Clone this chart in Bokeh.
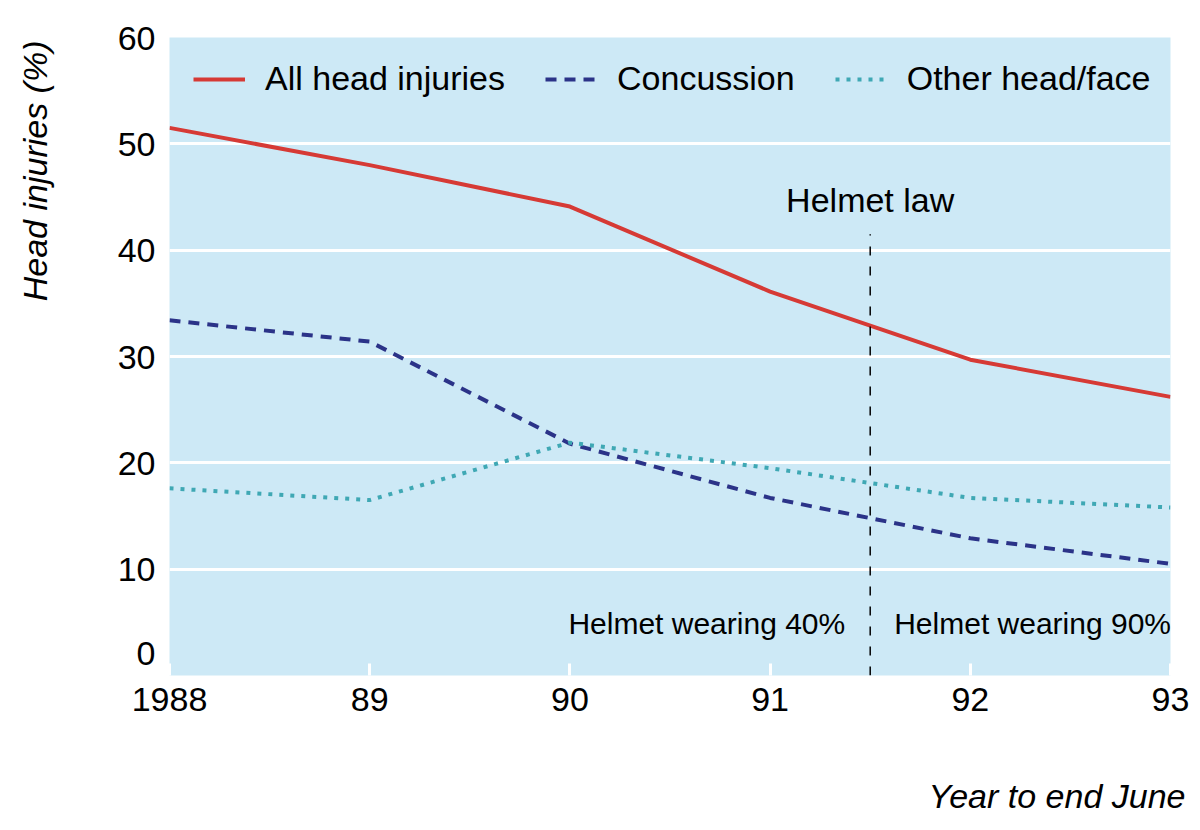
from bokeh.plotting import figure
from bokeh.models import Label, Legend, LegendItem, FixedTicker, Title
from bokeh.embed import file_html
from bokeh.resources import INLINE

# ---- data ----
years = [1988, 1989, 1990, 1991, 1992, 1993]
year_labels = ["1988", "89", "90", "91", "92", "93"]
all_head = [51.5, 48.0, 44.1, 36.1, 29.7, 26.2]
concussion = [33.4, 31.4, 21.8, 16.7, 12.9, 10.5]
other_head_face = [17.6, 16.5, 21.9, 19.5, 16.7, 15.8]
y_ticks = [0, 10, 20, 30, 40, 50, 60]
law_year = 1991.5
law_line_top = 41.5
series_names = ["All head injuries", "Concussion", "Other head/face"]
law_label = "Helmet law"
before_label = "Helmet wearing 40%"
after_label = "Helmet wearing 90%"
y_title = "Head injuries (%)"
x_title = "Year to end June"

FONT = "Liberation Sans"
FS = "34px"
BG = "#cde9f6"

p = figure(width=1200, height=830, x_range=(1988, 1993), y_range=(0, 60),
           output_backend="svg", toolbar_location=None,
           min_border_left=169, min_border_right=30, min_border_top=37,
           min_border_bottom=155)
p.background_fill_color = BG
p.border_fill_color = "white"
p.outline_line_color = None

# grid
p.xgrid.visible = False
p.ygrid.ticker = FixedTicker(ticks=y_ticks[1:-1])
p.ygrid.grid_line_color = "white"
p.ygrid.grid_line_width = 3

# x axis
p.xaxis.ticker = FixedTicker(ticks=years)
p.xaxis.major_label_overrides = {y: l for y, l in zip(years, year_labels)}
p.xaxis.axis_line_color = None
p.xaxis.major_tick_in = 12
p.xaxis.major_tick_out = 0
p.xaxis.major_tick_line_color = "white"
p.xaxis.major_tick_line_width = 3
p.xaxis.minor_tick_line_color = None
p.xaxis.major_label_text_font = FONT
p.xaxis.major_label_text_font_size = FS
p.xaxis.major_label_text_color = "black"
p.xaxis.major_label_standoff = 12

# y axis
p.yaxis.ticker = FixedTicker(ticks=y_ticks)
y_overrides = {t: str(t) for t in y_ticks}
y_overrides[y_ticks[0]] = str(y_ticks[0]) + "\n"   # lift the bottom label into the frame
p.yaxis.major_label_overrides = y_overrides
p.yaxis.axis_line_color = None
p.yaxis.major_tick_in = 0
p.yaxis.major_tick_out = 0
p.yaxis.minor_tick_line_color = None
p.yaxis.major_label_text_font = FONT
p.yaxis.major_label_text_font_size = FS
p.yaxis.major_label_text_color = "black"
p.yaxis.major_label_standoff = 14

# series
r1 = p.line(years, all_head, line_color="#d63a35", line_width=4)
r2 = p.line(years, concussion, line_color="#2b3388", line_width=4, line_dash="11 8")
r3 = p.line(years, other_head_face, line_color="#3fa8b4", line_width=4, line_dash="4 7")

# helmet law line
p.segment(x0=[law_year], y0=[0], x1=[law_year], y1=[law_line_top],
          line_color="black", line_width=1.5, line_dash="9 11")

p.add_layout(Label(x=law_year, y=44.7, text=law_label, text_align="center",
                   text_baseline="middle", text_font=FONT,
                   text_font_size=FS, text_color="black"))
p.add_layout(Label(x=law_year, y=4.85, text=before_label, x_offset=-25,
                   text_align="right", text_baseline="middle", text_font=FONT,
                   text_font_size="30px", text_color="black"))
p.add_layout(Label(x=law_year, y=4.85, text=after_label, x_offset=24,
                   text_align="left", text_baseline="middle", text_font=FONT,
                   text_font_size="30px", text_color="black"))

# axis titles: a tiny spacer panel, then the title itself
p.add_layout(Title(text=" ", text_font_size="1px", standoff=58), "left")
p.add_layout(Title(text=y_title, align="right", offset=3, standoff=0,
                   text_font=FONT, text_font_style="italic", text_font_size=FS,
                   text_color="black"), "left")
p.add_layout(Title(text=" ", text_font_size="1px", standoff=58), "below")
p.add_layout(Title(text=x_title, align="right", offset=-15, standoff=0,
                   text_font=FONT, text_font_style="italic", text_font_size=FS,
                   text_color="black"), "below")

legend = Legend(items=[LegendItem(label=series_names[0], renderers=[r1]),
                       LegendItem(label=series_names[1], renderers=[r2]),
                       LegendItem(label=series_names[2], renderers=[r3])],
                orientation="horizontal")
legend.margin = 0
legend.padding = 0
legend.location = (24, 577)
legend.background_fill_alpha = 0
legend.border_line_color = None
legend.label_text_font = FONT
legend.label_text_font_size = FS
legend.label_text_color = "black"
legend.glyph_width = 52
legend.label_standoff = 20
legend.spacing = 40
p.add_layout(legend, "center")

open("out.html", "w").write(file_html(p, INLINE))
